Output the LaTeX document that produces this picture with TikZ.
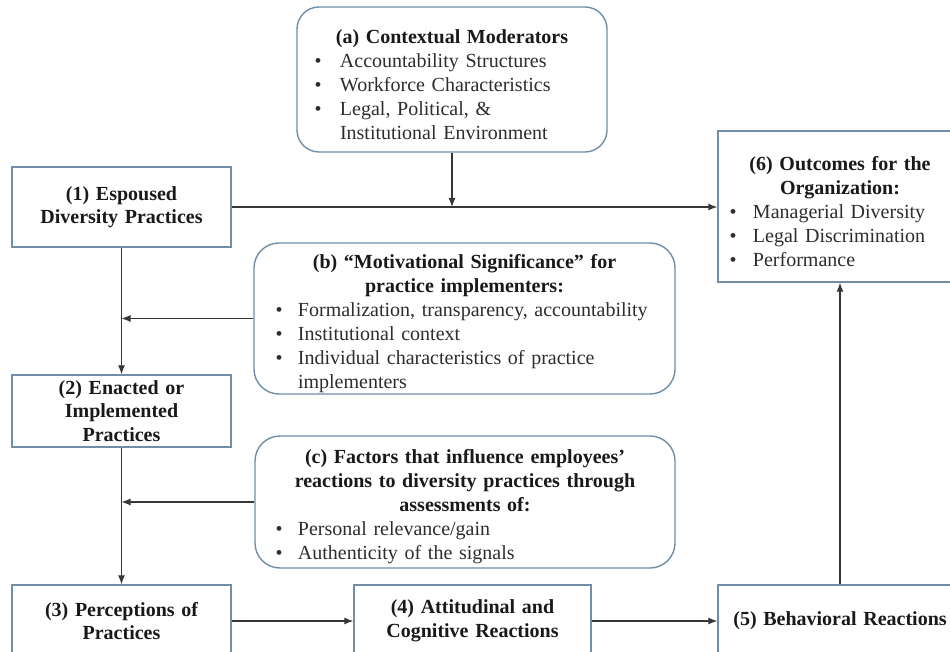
\documentclass[tikz,border=0pt]{standalone}
\usepackage{fontspec}
\setmainfont{Liberation Serif}
\usetikzlibrary{arrows.meta}
\definecolor{bcol}{RGB}{112,142,168}
\definecolor{tcol}{RGB}{45,45,45}
\definecolor{hcol}{RGB}{25,25,25}
\definecolor{acol}{RGB}{55,55,55}
\newlength\bulpre
\newlength\bulgap
\newcommand\bi[1]{\par\noindent\hspace*{\bulpre}\makebox[\bulgap][l]{\textbullet}\mbox{#1}}
\newcommand\bc[1]{\par\noindent\hspace*{\bulpre}\hspace*{\bulgap}\mbox{#1}}
\newcommand\hd[1]{\par{\centering\bfseries\color{hcol}#1\par}}
\begin{document}
\begin{tikzpicture}[x=1pt,y=-1pt,
  box/.style={draw=bcol, line width=1.4pt, fill=white, inner xsep=6pt, inner ysep=0pt,
    font=\fontsize{20}{24}\selectfont, text=tcol},
  rbox/.style={box, rounded corners=22pt},
  hbox/.style={box, align=center, text=hcol, font=\fontsize{20}{23.5}\selectfont\bfseries},
  arr/.style={draw=acol, line width=1.2pt, -{Latex[length=9pt,width=7pt]}},
  ln/.style={draw=acol, line width=1.2pt}]
\useasboundingbox[fill=white] (0,0) rectangle (950,652);

% (a)
\node[rbox, minimum width=310pt, minimum height=145pt, text width=298pt] (A) at (452,79.5)
  {\setlength\bulpre{11.5pt}\setlength\bulgap{25.5pt}\raggedright
   \hd{(a) Contextual Moderators}
   \bi{Accountability Structures}
   \bi{Workforce Characteristics}
   \bi{Legal, Political, \&}
   \bc{Institutional Environment}};

% (1)
\node[hbox, minimum width=219pt, minimum height=80pt, text width=207pt] (S1) at (121.5,207)
  {(1) Espoused\\Diversity Practices};

% (6)
\node[box, minimum width=244pt, minimum height=151pt, text width=232pt] (O6) at (840,206.5)
  {\setlength\bulpre{5.5pt}\setlength\bulgap{23.5pt}\raggedright
   \hd{(6) Outcomes for the\\Organization:}
   \bi{Managerial Diversity}
   \bi{Legal Discrimination}
   \bi{Performance}};

% (b)
\node[rbox, rounded corners=25pt, minimum width=421pt, minimum height=151pt, text width=409pt] (B) at (464.5,318.5)
  {\setlength\bulpre{15.5pt}\setlength\bulgap{22.5pt}\raggedright
   \hd{(b) “Motivational Significance” for\\practice implementers:}
   \bi{Formalization, transparency, accountability}
   \bi{Institutional context}
   \bi{Individual characteristics of practice}
   \bc{implementers}};

% (2)
\node[hbox, minimum width=219pt, minimum height=72pt, text width=207pt] (S2) at (121.5,411)
  {(2) Enacted or\\Implemented\\Practices};

% (c)
\node[rbox, rounded corners=25pt, minimum width=420pt, minimum height=132pt, text width=408pt] (C) at (465,502)
  {\setlength\bulpre{14.5pt}\setlength\bulgap{22.5pt}\raggedright
   \hd{(c) Factors that influence employees’\\reactions to diversity practices through\\assessments of:}
   \bi{Personal relevance/gain}
   \bi{Authenticity of the signals}};

% bottom row
\node[hbox, minimum width=219pt, minimum height=72pt, text width=207pt] (S3) at (121.5,621)
  {(3) Perceptions of\\Practices};
\node[hbox, minimum width=237pt, minimum height=72pt, text width=225pt] (S4) at (472.5,621)
  {(4) Attitudinal and\\Cognitive Reactions};
\node[hbox, minimum width=244pt, minimum height=72pt, text width=232pt] (S5) at (840,621)
  {(5) Behavioral Reactions};

% connectors
\draw[arr] (S1.east) -- (S1.east -| O6.west);
\draw[arr] (A.south) -- (A.south |- S1.east);
\draw[arr] (S1.south) -- (S2.north);
\draw[arr] (B.west) -- (B.west -| S1.south);
\draw[arr] (S2.south) -- (S3.north);
\draw[arr] (C.west) -- (C.west -| S2.south);
\draw[arr] (S3.east) -- (S4.west);
\draw[arr] (S4.east) -- (S5.west);
\draw[arr] (S5.north) -- (O6.south);
\end{tikzpicture}
\end{document}
